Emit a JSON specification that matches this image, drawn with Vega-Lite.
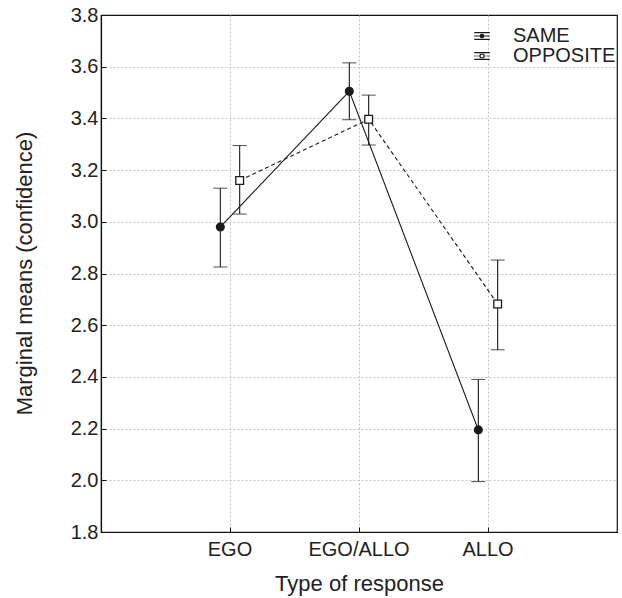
{
  "$schema": "https://vega.github.io/schema/vega-lite/v6.json",
  "width": 516,
  "height": 517,
  "autosize": {"type": "none"},
  "padding": {"left": 101, "top": 15, "right": 5, "bottom": 66},
  "background": "white",
  "config": {
    "font": "Liberation Sans",
    "view": {"stroke": "#111", "strokeWidth": 1.2},
    "axis": {
      "domainColor": "#111",
      "domainWidth": 1.2,
      "tickColor": "#111",
      "labelColor": "#222",
      "titleColor": "#222",
      "labelFont": "Liberation Sans",
      "titleFont": "Liberation Sans",
      "titleFontWeight": "normal",
      "gridColor": "#c4c4c4",
      "gridDash": [2, 2],
      "gridWidth": 1
    },
    "legend": {
      "title": null,
      "orient": "none",
      "legendX": 371,
      "legendY": 11,
      "padding": 0,
      "symbolOpacity": 1,
      "symbolStrokeColor": "#1a1a1a",
      "symbolStrokeWidth": 1.1,
      "labelFontSize": 20,
      "labelColor": "#222",
      "labelFont": "Liberation Sans",
      "labelOffset": 21,
      "rowPadding": 0
    }
  },
  "data": {
    "values": [
      {"resp": "EGO", "idx": 1, "group": "SAME", "mean": 2.98, "lo": 2.825, "hi": 3.13},
      {"resp": "EGO", "idx": 1, "group": "OPPOSITE", "mean": 3.16, "lo": 3.03, "hi": 3.295},
      {"resp": "EGO/ALLO", "idx": 2, "group": "SAME", "mean": 3.505, "lo": 3.395, "hi": 3.615},
      {"resp": "EGO/ALLO", "idx": 2, "group": "OPPOSITE", "mean": 3.397, "lo": 3.297, "hi": 3.49},
      {"resp": "ALLO", "idx": 3, "group": "SAME", "mean": 2.195, "lo": 1.995, "hi": 2.39},
      {"resp": "ALLO", "idx": 3, "group": "OPPOSITE", "mean": 2.682, "lo": 2.505, "hi": 2.852}
    ]
  },
  "encoding": {
    "x": {
      "field": "resp",
      "type": "nominal",
      "sort": ["EGO", "EGO/ALLO", "ALLO"],
      "scale": {"type": "band", "paddingInner": 0.7, "paddingOuter": 0.85},
      "axis": {
        "title": "Type of response",
        "labelAngle": 0,
        "labelFontSize": 20,
        "labelBaseline": "alphabetic",
        "labelPadding": 28,
        "ticks": true,
        "tickSize": -5,
        "grid": true,
        "bandPosition": 0.5,
        "titleFontSize": 22,
        "titleBaseline": "alphabetic",
        "titleY": 58,
        "titleX": 258
      }
    },
    "xOffset": {"field": "group", "type": "nominal", "sort": ["SAME", "OPPOSITE"]}
  },
  "layer": [
    {
      "mark": {"type": "line", "color": "#1a1a1a", "strokeWidth": 1.1},
      "encoding": {
        "y": {
          "field": "mean",
          "type": "quantitative",
          "scale": {"domain": [1.8, 3.8], "nice": false, "zero": false},
          "axis": {
            "title": "Marginal means (confidence)",
            "values": [1.8, 2.0, 2.2, 2.4, 2.6, 2.8, 3.0, 3.2, 3.4, 3.6, 3.8],
            "format": ".1f",
            "labelFontSize": 20,
            "labelPadding": 8,
            "ticks": true,
            "tickSize": -5,
            "grid": true,
            "gridOpacity": {"condition": {"test": "datum.value >= 3.79 || datum.value <= 1.81", "value": 0}, "value": 1},
            "titleFontSize": 22,
            "titleAngle": -90,
            "titleBaseline": "alphabetic",
            "titleAlign": "center",
            "titleX": -70,
            "titleY": 258
          }
        },
        "detail": {"field": "group"},
        "order": {"field": "idx", "type": "quantitative"},
        "strokeDash": {"condition": {"test": "datum.group === 'OPPOSITE'", "value": [4, 3]}, "value": [1, 0]}
      }
    },
    {
      "mark": {"type": "rule", "color": "#1a1a1a", "strokeWidth": 1.1},
      "encoding": {
        "y": {"field": "lo", "type": "quantitative"},
        "y2": {"field": "hi"}
      }
    },
    {
      "mark": {"type": "tick", "color": "#1a1a1a", "size": 14, "thickness": 1.1, "orient": "horizontal"},
      "encoding": {"y": {"field": "lo", "type": "quantitative"}}
    },
    {
      "mark": {"type": "tick", "color": "#1a1a1a", "size": 14, "thickness": 1.1, "orient": "horizontal"},
      "encoding": {"y": {"field": "hi", "type": "quantitative"}}
    },
    {
      "mark": {"type": "point", "filled": false, "opacity": 0, "color": "#1a1a1a", "strokeWidth": 1.1},
      "encoding": {
        "y": {"field": "mean", "type": "quantitative"},
        "shape": {
          "field": "group",
          "type": "nominal",
          "scale": {
            "domain": ["SAME", "OPPOSITE"],
            "range": [
              "M-1.56,-0.67H1.56M-1.56,0H1.56M-1.56,0.67H1.56M0.36,0A0.36,0.36,0,1,1,-0.36,0A0.36,0.36,0,1,1,0.36,0ZM0.24,0A0.24,0.24,0,1,1,-0.24,0A0.24,0.24,0,1,1,0.24,0ZM0.12,0A0.12,0.12,0,1,1,-0.12,0A0.12,0.12,0,1,1,0.12,0Z",
              "M-1.56,-0.67H1.56M-1.56,0H-1.32M-1.13,0H-0.89M-0.7,0H-0.46M0.46,0H0.7M0.89,0H1.13M1.32,0H1.56M-1.56,0.67H1.56M-0.36,-0.36H0.36V0.36H-0.36Z"
            ]
          },
          "legend": {"symbolOpacity": 1, "symbolStrokeColor": "#1a1a1a", "symbolStrokeWidth": 1.1}
        }
      }
    },
    {
      "mark": {"type": "point", "filled": false, "strokeWidth": 1.3, "opacity": 1},
      "encoding": {
        "y": {"field": "mean", "type": "quantitative"},
        "shape": {"condition": {"test": "datum.group === 'SAME'", "value": "circle"}, "value": "square"},
        "fill": {"condition": {"test": "datum.group === 'SAME'", "value": "#1a1a1a"}, "value": "white"},
        "stroke": {"value": "#1a1a1a"},
        "size": {"value": 60}
      }
    }
  ]
}
